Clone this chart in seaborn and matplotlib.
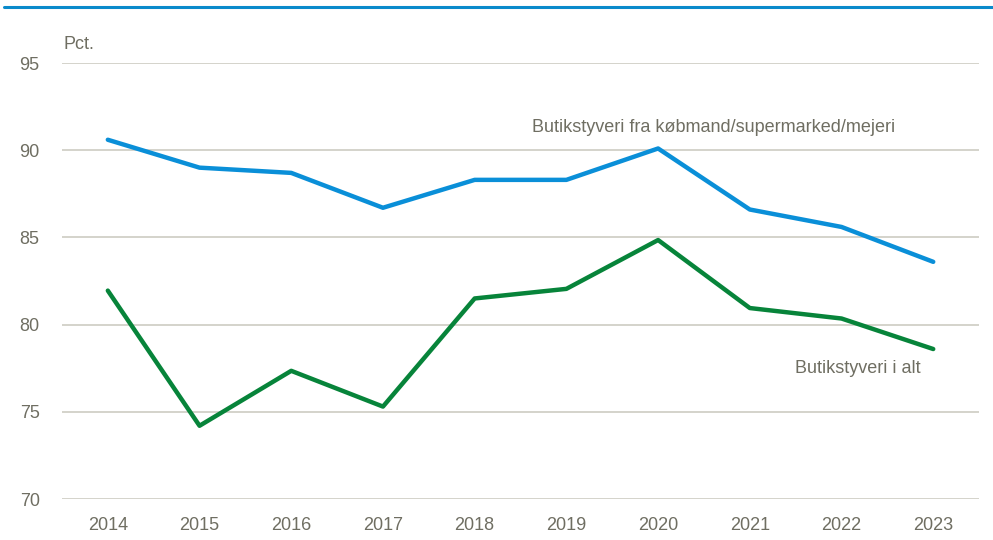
import matplotlib
matplotlib.use("Agg")
import matplotlib.pyplot as plt
import matplotlib.lines as mlines
import pandas as pd
import seaborn as sns

years = ["2014", "2015", "2016", "2017", "2018", "2019", "2020", "2021", "2022", "2023"]
supermarked = [90.6, 89.0, 88.7, 86.7, 88.3, 88.3, 90.1, 86.6, 85.6, 83.6]
i_alt = [81.95, 74.2, 77.35, 75.3, 81.5, 82.05, 84.85, 80.95, 80.35, 78.6]
yticks = [70, 75, 80, 85, 90, 95]

TXT = "#6f6e62"
BLUE = "#0a8fd8"
GREEN = "#07843a"

sns.set_theme(style="white")
plt.rcParams["font.family"] = ["Liberation Sans", "DejaVu Sans"]

df = pd.DataFrame({
    "year": years * 2,
    "value": supermarked + i_alt,
    "serie": ["Butikstyveri fra købmand/supermarked/mejeri"] * len(years)
             + ["Butikstyveri i alt"] * len(years),
})

fig = plt.figure(figsize=(9.93, 5.40), dpi=100)
ax = fig.add_axes([0.0624, 0.0759, 0.9236, 0.8074])

sns.lineplot(data=df, x="year", y="value", hue="serie",
             palette=[BLUE, GREEN], linewidth=3.2, legend=False, ax=ax)

ax.set_xlim(-0.5, len(years) - 0.5)
ax.set_ylim(70, 95)
ax.set_yticks(yticks)
ax.yaxis.grid(True, color="#c9c7bd", linewidth=1.1)
ax.set_axisbelow(True)
for s in ax.spines.values():
    s.set_visible(False)
ax.tick_params(axis="both", length=0, labelsize=13, colors=TXT)
ax.tick_params(axis="x", pad=13)
ax.tick_params(axis="y", pad=16)
ax.set_xlabel("")
ax.set_ylabel("")

fig.text(0.064, 0.918, "Pct.", fontsize=13, color=TXT, va="center")
ax.text(4.63, 91.3, "Butikstyveri fra købmand/supermarked/mejeri",
        fontsize=13, color=TXT, va="center")
ax.text(7.49, 77.5, "Butikstyveri i alt", fontsize=13, color=TXT, va="center")

fig.add_artist(mlines.Line2D([0.004, 1.0], [0.987, 0.987], color="#0a8acb",
                             linewidth=2.2, transform=fig.transFigure))

fig.savefig("out.png", dpi=100)
plt.close(fig)
